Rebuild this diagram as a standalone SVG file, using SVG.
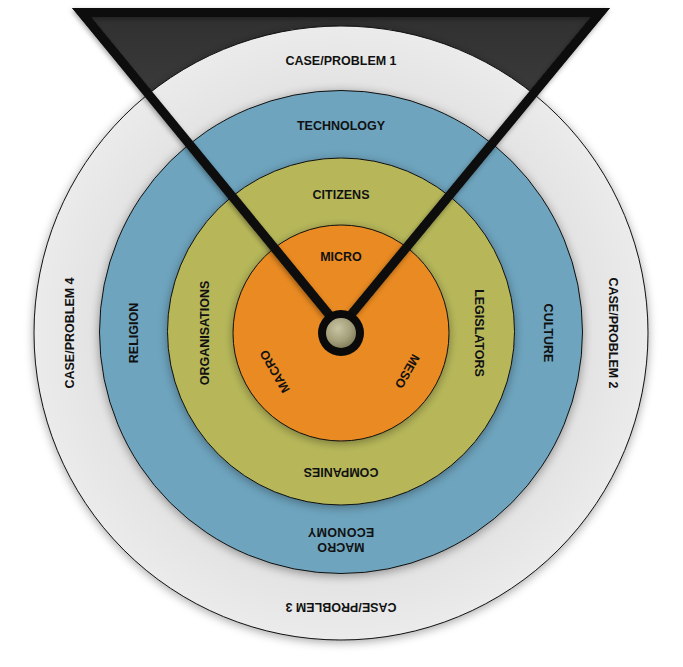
<svg xmlns="http://www.w3.org/2000/svg" width="683" height="667" viewBox="0 0 683 667">
  <defs>
    <linearGradient id="darkFill" x1="0" y1="0" x2="0" y2="1">
      <stop offset="0" stop-color="#2f2f2f"/>
      <stop offset="0.5" stop-color="#454545"/>
      <stop offset="1" stop-color="#4e4e4e"/>
    </linearGradient>
    <radialGradient id="grayFill" cx="0.5" cy="0.5" r="0.5">
      <stop offset="0.75" stop-color="#d9d9d9"/>
      <stop offset="0.82" stop-color="#e4e4e4"/>
      <stop offset="1" stop-color="#ebebeb"/>
    </radialGradient>
    <radialGradient id="knobFill" cx="0.4" cy="0.35" r="0.7">
      <stop offset="0" stop-color="#c8c3a0"/>
      <stop offset="0.6" stop-color="#a5a07c"/>
      <stop offset="1" stop-color="#7e7a58"/>
    </radialGradient>
    <filter id="shadow" x="-20%" y="-20%" width="140%" height="140%">
      <feDropShadow dx="0" dy="2" stdDeviation="5" flood-color="#000" flood-opacity="0.35"/>
    </filter>
    <filter id="lineShadow" x="-20%" y="-20%" width="140%" height="140%">
      <feDropShadow dx="-1" dy="2" stdDeviation="2.5" flood-color="#000" flood-opacity="0.35"/>
    </filter>
    <style>
      .ring { stroke: #111; stroke-width: 1; filter: url(#shadow); }
      .lbl { font-family: "Liberation Sans", Arial, sans-serif; font-weight: bold; font-size: 12.5px; fill: #111; text-anchor: middle; }
      .pointer { fill: none; stroke: #0a0a0a; stroke-width: 9; stroke-linejoin: miter; stroke-miterlimit: 10; filter: url(#lineShadow); }
    </style>
  </defs>

  <g id="triangle-fill">
    <polygon points="72,8 610,8 340,330" fill="url(#darkFill)"/>
  </g>

  <g id="ring-cases">
    <circle class="ring" cx="341" cy="333" r="307" fill="url(#grayFill)"/>
    <text class="lbl" transform="translate(341,60)" y="4.5">CASE/PROBLEM 1</text>
    <text class="lbl" transform="translate(613,333) rotate(90)" y="4.5">CASE/PROBLEM 2</text>
    <text class="lbl" transform="translate(341,607) rotate(180)" y="4.5">CASE/PROBLEM 3</text>
    <text class="lbl" transform="translate(69,333) rotate(-90)" y="4.5">CASE/PROBLEM 4</text>
  </g>

  <g id="ring-factors">
    <circle class="ring" cx="341" cy="332" r="241.5" fill="#6ea4be"/>
    <text class="lbl" transform="translate(341,125.5)" y="4.5">TECHNOLOGY</text>
    <text class="lbl" transform="translate(548,333) rotate(90)" y="4.5">CULTURE</text>
    <g transform="translate(341,540) rotate(180)">
      <text class="lbl" y="-3">MACRO</text>
      <text class="lbl" y="12" letter-spacing="0.3">ECONOMY</text>
    </g>
    <text class="lbl" transform="translate(133,333) rotate(-90)" y="4.5">RELIGION</text>
  </g>

  <g id="ring-actors">
    <circle class="ring" cx="341" cy="331.5" r="173.5" fill="#b7b75a"/>
    <text class="lbl" transform="translate(341,194.5)" y="4.5">CITIZENS</text>
    <text class="lbl" transform="translate(479,333) rotate(90)" y="4.5">LEGISLATORS</text>
    <text class="lbl" transform="translate(341,472.5) rotate(180)" y="4.5">COMPANIES</text>
    <text class="lbl" transform="translate(204,333) rotate(-90)" y="4.5">ORGANISATIONS</text>
  </g>

  <g id="ring-levels">
    <circle class="ring" cx="341" cy="333" r="108" fill="#e98a21"/>
    <text class="lbl" transform="translate(341,256.5)" y="4.5">MICRO</text>
    <text class="lbl" transform="translate(407.5,371.5) rotate(120)" y="4.5">MESO</text>
    <text class="lbl" transform="translate(274.5,371.5) rotate(-120)" y="4.5">MACRO</text>
  </g>

  <g id="pointer">
    <polyline class="pointer" points="81.6,12.5 600.4,12.5 340,328 81.6,12.5 600.4,12.5"/>
  </g>

  <g id="knob">
    <circle cx="341" cy="333" r="23" fill="#0a0a0a"/>
    <circle cx="341" cy="333" r="15" fill="url(#knobFill)"/>
  </g>
</svg>
